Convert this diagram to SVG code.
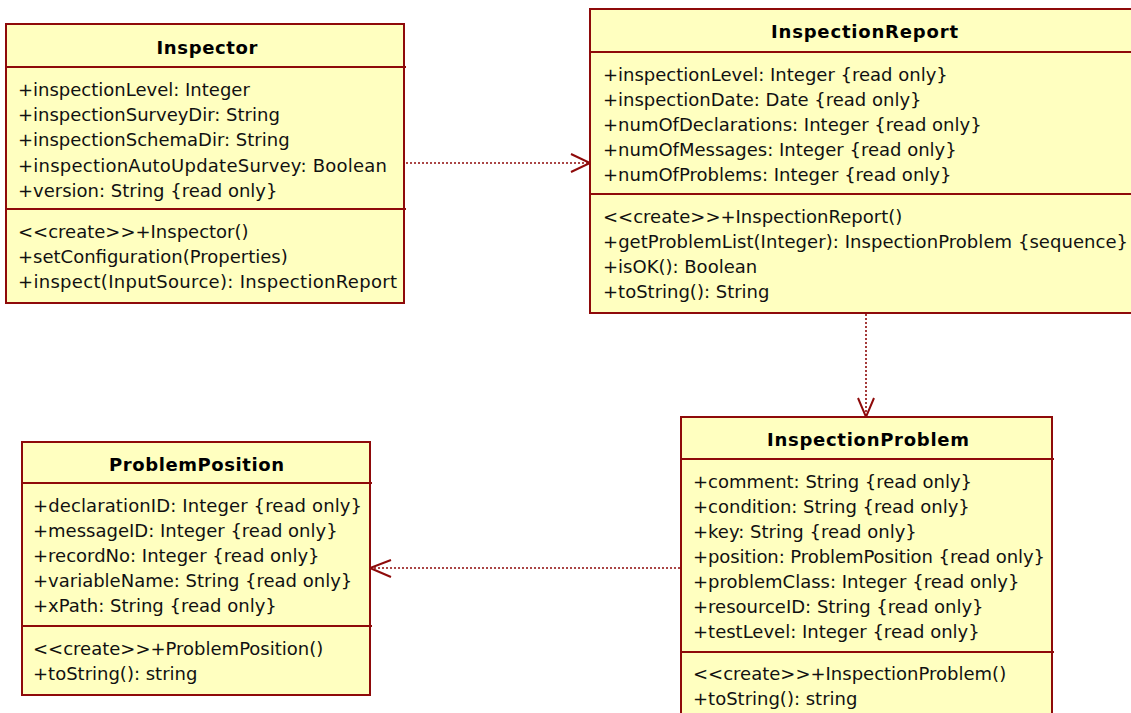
<svg xmlns="http://www.w3.org/2000/svg" width="1131" height="713" viewBox="0 0 1131 713">
<style>
.box{fill:#FFFFC0;stroke:#8E0A0A;stroke-width:2}
.div{stroke:#8E0A0A;stroke-width:2}
.t{font-family:"DejaVu Sans",Verdana,sans-serif;font-size:18px;fill:#111}
.h{font-family:"DejaVu Sans",Verdana,sans-serif;font-size:18px;font-weight:bold;fill:#000;text-anchor:middle}
.dep{stroke:#8E0A0A;stroke-width:1.6;stroke-dasharray:2,2;fill:none}
.head{stroke:#8E0A0A;stroke-width:2;fill:none}
</style>
<rect width="1131" height="713" fill="#fff"/>
<g id="connectors">
<line class="dep" x1="406" y1="163" x2="589" y2="163"/>
<polyline class="head" points="571,154 590,163 571,172"/>
<line class="dep" x1="866" y1="314" x2="866" y2="416"/>
<polyline class="head" points="858,398 866,417 874,398"/>
<line class="dep" x1="680" y1="568" x2="371" y2="568"/>
<polyline class="head" points="391,560 370,568 391,577"/>
</g>
<g id="Inspector">
<rect class="box" x="6" y="24" width="398" height="279"/>
<line class="div" x1="6" y1="67" x2="406" y2="67"/>
<line class="div" x1="6" y1="209" x2="406" y2="209"/>
<text class="h" x="207" y="54" textLength="101" lengthAdjust="spacing">Inspector</text>
<text class="t" x="18" y="96">+inspectionLevel: Integer</text>
<text class="t" x="18" y="121">+inspectionSurveyDir: String</text>
<text class="t" x="18" y="146">+inspectionSchemaDir: String</text>
<text class="t" x="18" y="171.5" textLength="369" lengthAdjust="spacing">+inspectionAutoUpdateSurvey: Boolean</text>
<text class="t" x="18" y="196.5">+version: String {read only}</text>
<text class="t" x="18" y="238">&lt;&lt;create&gt;&gt;+Inspector()</text>
<text class="t" x="18" y="263">+setConfiguration(Properties)</text>
<text class="t" x="18" y="288" textLength="379" lengthAdjust="spacing">+inspect(InputSource): InspectionReport</text>
</g>
<g id="InspectionReport">
<rect class="box" x="590" y="9" width="550" height="304"/>
<line class="div" x1="590" y1="52" x2="1131" y2="52"/>
<line class="div" x1="590" y1="194" x2="1131" y2="194"/>
<text class="h" x="864.5" y="38" textLength="187" lengthAdjust="spacing">InspectionReport</text>
<text class="t" x="603" y="81">+inspectionLevel: Integer {read only}</text>
<text class="t" x="603" y="106">+inspectionDate: Date {read only}</text>
<text class="t" x="603" y="131">+numOfDeclarations: Integer {read only}</text>
<text class="t" x="603" y="156">+numOfMessages: Integer {read only}</text>
<text class="t" x="603" y="181">+numOfProblems: Integer {read only}</text>
<text class="t" x="603" y="223">&lt;&lt;create&gt;&gt;+InspectionReport()</text>
<text class="t" x="603" y="248" textLength="525" lengthAdjust="spacing">+getProblemList(Integer): InspectionProblem {sequence}</text>
<text class="t" x="603" y="273">+isOK(): Boolean</text>
<text class="t" x="603" y="298">+toString(): String</text>
</g>
<g id="ProblemPosition">
<rect class="box" x="22" y="442" width="348" height="253"/>
<line class="div" x1="22" y1="483" x2="372" y2="483"/>
<line class="div" x1="22" y1="626" x2="372" y2="626"/>
<text class="h" x="196.5" y="471" textLength="175" lengthAdjust="spacing">ProblemPosition</text>
<text class="t" x="33" y="512" textLength="329" lengthAdjust="spacing">+declarationID: Integer {read only}</text>
<text class="t" x="33" y="537">+messageID: Integer {read only}</text>
<text class="t" x="33" y="562">+recordNo: Integer {read only}</text>
<text class="t" x="33" y="587">+variableName: String {read only}</text>
<text class="t" x="33" y="612">+xPath: String {read only}</text>
<text class="t" x="33" y="655">&lt;&lt;create&gt;&gt;+ProblemPosition()</text>
<text class="t" x="33" y="680">+toString(): string</text>
</g>
<g id="InspectionProblem">
<rect class="box" x="681" y="417" width="371" height="310"/>
<line class="div" x1="681" y1="459" x2="1054" y2="459"/>
<line class="div" x1="681" y1="652" x2="1054" y2="652"/>
<text class="h" x="868" y="446" textLength="202" lengthAdjust="spacing">InspectionProblem</text>
<text class="t" x="693" y="488">+comment: String {read only}</text>
<text class="t" x="693" y="513">+condition: String {read only}</text>
<text class="t" x="693" y="538">+key: String {read only}</text>
<text class="t" x="693" y="563" textLength="352" lengthAdjust="spacing">+position: ProblemPosition {read only}</text>
<text class="t" x="693" y="588">+problemClass: Integer {read only}</text>
<text class="t" x="693" y="613">+resourceID: String {read only}</text>
<text class="t" x="693" y="638">+testLevel: Integer {read only}</text>
<text class="t" x="693" y="680">&lt;&lt;create&gt;&gt;+InspectionProblem()</text>
<text class="t" x="693" y="705">+toString(): string</text>
</g>
</svg>
